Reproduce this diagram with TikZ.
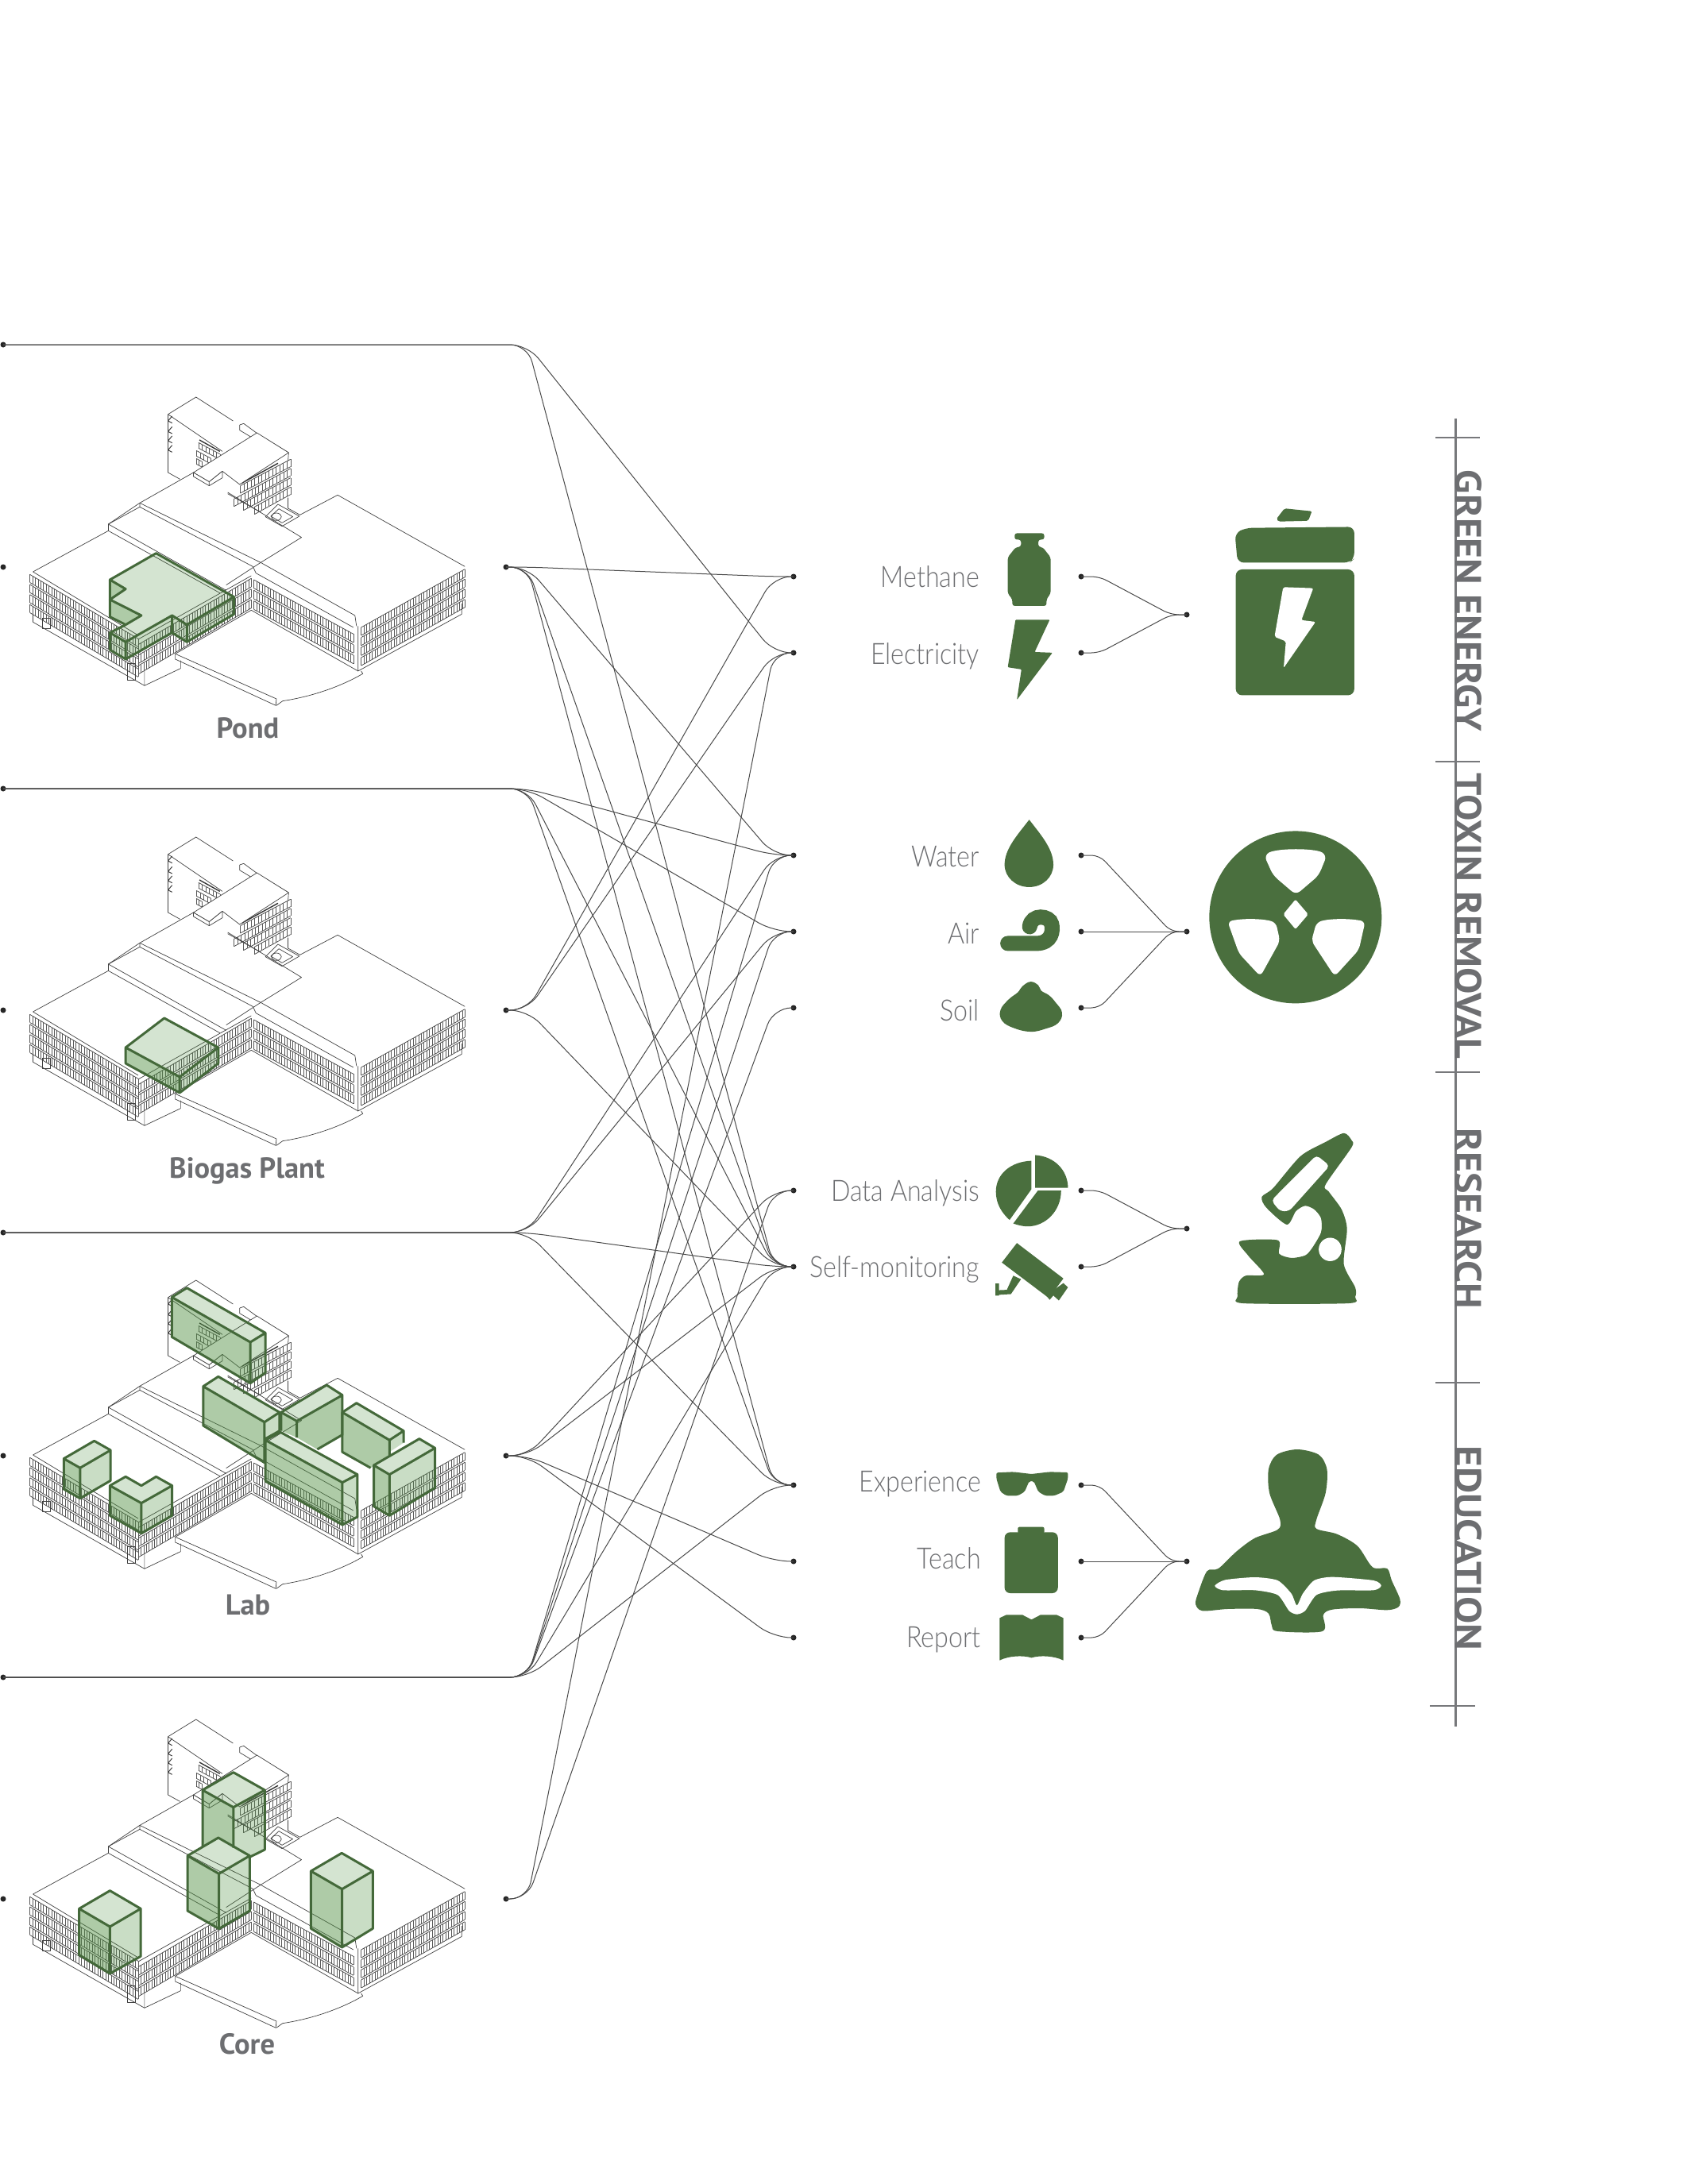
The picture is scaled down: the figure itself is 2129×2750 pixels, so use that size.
\documentclass[tikz,border=0pt]{standalone}
\usepackage{fontspec}
\usepackage{graphicx}
\setmainfont{Lato Light}
\newfontfamily\boldf{PT Sans}
\usetikzlibrary{calc}
\definecolor{iconG}{HTML}{4A6F3E}
\definecolor{volG}{HTML}{44693A}
\definecolor{volF}{HTML}{4F8F40}
\definecolor{txtG}{HTML}{6D6E71}
\definecolor{ruleG}{HTML}{77787B}
\definecolor{conG}{HTML}{4A4A4A}
\newcommand\nar[1]{\scalebox{.87}[1]{#1}}
\tikzset{
  dotn/.style={circle,fill=black!85,inner sep=0pt,minimum size=7pt},
  conn/.style={draw=conG,line width=1pt,rounded corners=22pt},
  gconn/.style={draw=conG,line width=1pt,rounded corners=10pt},
  lbl/.style={anchor=base east,inner sep=0pt,text=txtG,font=\fontsize{37}{40}\selectfont},
  blbl/.style={anchor=base,inner sep=0pt,text=txtG,font=\boldf\bfseries\fontsize{36.5}{38}\selectfont},
  vtxt/.style={inner sep=0pt,rotate=-90,text=txtG},
  rule/.style={draw=ruleG,line width=3pt},
  tick/.style={draw=ruleG,line width=1.3pt},
  icon/.style={fill=iconG,draw=none},
  hole/.style={fill=white,draw=none},
  bl/.style={draw=black!75,line width=.7pt,line join=round},
  bt/.style={draw=black!65,line width=.5pt},
  ftop/.style={fill=volF,fill opacity=.24,draw=none},
  fleft/.style={fill=volF,fill opacity=.46,draw=none},
  fright/.style={fill=volF,fill opacity=.3,draw=none},
  gedge/.style={draw=volG,line width=3pt,line join=round},
  pz3/.style={shift={(1000,600)},xscale=.574,yscale=.4464},
  pz4/.style={shift={(1000,1400)},xscale=.574,yscale=.4464},
  pz7/.style={shift={(1000,1800)},xscale=.574,yscale=.3333},
  pb/.style={shift={(0,#1)},xscale=.3954,yscale=.3333},
}
\newcommand\facade[7]{%
  \foreach \rr in {1,...,#5}{%
    \pgfmathsetmacro\dy{(\rr-1)*#6}%
    \draw[bl] (#1,{#2+\dy}) -- (#3,{#4+\dy});
    \draw[bl] (#1,{#2+\dy+#6*.8}) -- (#3,{#4+\dy+#6*.8});
    \draw[bt] \foreach \ii in {0,...,#7}{ ({#1+(#3-#1)*\ii/#7},{#2+(#4-#2)*\ii/#7+\dy}) -- ++(0,#6*.8) };
  }}
% translucent box: top, right, left corners, heights left/front/right
\newcommand\gcube[9]{%
  \pgfmathsetmacro\fx{#5+#3-#1}\pgfmathsetmacro\fy{#6+#4-#2}%
  \fill[fleft] (#5,#6) -- (\fx,\fy) -- (\fx,{\fy+#8}) -- (#5,{#6+#7}) -- cycle;
  \fill[fright] (#3,#4) -- (\fx,\fy) -- (\fx,{\fy+#8}) -- (#3,{#4+#9}) -- cycle;
  \fill[ftop] (#1,#2) -- (#3,#4) -- (\fx,\fy) -- (#5,#6) -- cycle;
  \draw[gedge] (#5,#6) -- (#1,#2) -- (#3,#4) -- (\fx,\fy) -- cycle (\fx,\fy) -- (\fx,{\fy+#8}) (#5,#6) -- (#5,{#6+#7}) -- (\fx,{\fy+#8}) -- (#3,{#4+#9}) -- (#3,#4);
}
\newcommand\buildingbase{%
  % rear tower
  \draw[bl] (535,125) -- (624,60) -- (742,150) (763,165) -- (776,160) -- (822,200) -- (919,270) -- (917,300);
  \draw[bl] (535,125) -- (708,265) (535,125) -- (535,345) -- (573,370);
  \draw[bl] (763,165) -- (763,185) -- (805,215);
  \foreach \yy in {150,190,225,260}{\draw[bl,line width=1pt] (548,{\yy-18}) -- (535,\yy) -- (548,{\yy+8});}
  % tower facades
  \facade{765}{395}{925}{295}{1}{35}{14}
  \facade{745}{445}{925}{330}{1}{35}{16}
  \facade{775}{460}{925}{365}{1}{35}{13}
  \facade{810}{475}{925}{400}{1}{35}{10}
  \facade{632}{232}{700}{275}{1}{26}{6}
  \facade{625}{262}{672}{292}{1}{26}{4}
  \facade{625}{292}{642}{303}{1}{26}{2}
  \draw[line width=1.4pt,black!80] (770,385) -- (885,310) (635,222) -- (700,265);
  \draw[bl] (725,425) -- (830,495) (917,440) -- (917,480) -- (955,505);
  % connector block
  \draw[bl,fill=white] (616,345) -- (818,195) -- (919,270) -- (763,390) -- (708,340) -- (666,380) -- cycle;
  \draw[bl,fill=white] (616,345) -- (616,360) -- (666,395) -- (708,365) -- (708,340) -- (666,380) -- cycle (666,380) -- (666,395);
  % courtyard
  \draw[bl] (885,465) -- (953,510) -- (898,548) -- (845,512) -- cycle (888,482) -- (932,512) -- (898,535) -- (862,510) -- cycle;
  \draw[bl] (880,512) circle [x radius=16,y radius=14];
  % central slab and roofs
  \draw[bl] (616,345) -- (445,460) -- (345,540) -- (345,565) -- (700,800);
  \draw[bl] (445,460) -- (830,685) (445,475) -- (805,700) (445,460) -- (445,475) -- (345,540);
  \draw[bl] (345,540) -- (720,790) (725,420) -- (960,590) -- (830,685) -- (720,770);
  % right wing
  \draw[bl] (955,505) -- (1075,430) -- (1480,700);
  \draw[bl] (830,685) -- (1130,885) -- (1135,925) (805,700) -- (815,725) -- (1125,930);
  \draw[bl] (1140,925) -- (1140,1095) -- (1470,880) -- (1470,840);
  % left wing
  \draw[bl] (105,720) -- (345,565) (105,720) -- (440,960) (440,975) -- (800,735);
  \draw[bl] (105,880) -- (105,910) -- (460,1150) -- (575,1085) -- (575,1055) (460,1150) -- (460,1090);
  % facades
  \facade{95}{730}{440}{973}{4}{38}{40}
  \facade{440}{995}{800}{745}{3}{40}{42}
  \facade{808}{750}{1125}{955}{3}{40}{36}
  \facade{1150}{930}{1480}{710}{4}{38}{38}
  \draw[bl] (135,895) rectangle (160,935) (405,1065) rectangle (430,1130);
  % plaza
  \draw[bl] (558,1030) -- (800,865) -- (1140,1095);
  \draw[bl] (558,1030) -- (558,1050) -- (878,1225) -- (880,1200) -- (558,1030);
  \draw[bl] (880,1225) -- (900,1208) .. controls (1000,1190) and (1090,1150) .. (1155,1105) -- (1150,1095);
}
\begin{document}
\begin{tikzpicture}[x=1pt,y=-1pt]
\useasboundingbox (0,0) rectangle (2129,2750);
\fill[white] (0,0) rectangle (2129,2750);

% ---------- buildings
\begin{scope}[pb=480]\buildingbase
  \fill[ftop] (350,750) -- (497,650) -- (745,815) -- (595,920) -- (548,885) -- (400,985) -- (350,950) -- (400,920) -- (450,885) -- (350,825) -- (400,785) -- cycle;
  \fill[fleft] (350,750) -- (400,785) -- (350,825) -- cycle (350,825) -- (450,885) -- (400,920) -- (350,890) -- cycle;
  \fill[fright] (350,950) -- (400,985) -- (400,1050) -- (350,1015) -- cycle (400,985) -- (548,885) -- (548,950) -- (400,1050) -- cycle (595,920) -- (745,815) -- (745,880) -- (595,985) -- cycle (548,885) -- (595,920) -- (595,985) -- (548,950) -- cycle;
  \draw[gedge] (350,750) -- (497,650) -- (745,815) -- (595,920) -- (548,885) -- (400,985) -- (350,950) -- (400,920) -- (450,885) -- (350,825) -- (400,785) -- cycle;
  \draw[gedge] (350,750) -- (350,890) -- (400,920) (350,950) -- (350,1015) -- (400,1050) -- (548,950) -- (548,885) (400,985) -- (400,1050) (548,950) -- (595,985) -- (745,880) -- (745,815) (595,920) -- (595,985);
\end{scope}
\begin{scope}[pb=1034]\buildingbase
  \gcube{523}{744}{695}{855}{400}{855}{60}{60}{60}
\end{scope}
\begin{scope}[pb=1592]\buildingbase\end{scope}
\begin{scope}[pb=1580]
  \gcube{595}{125}{845}{295}{547}{160}{150}{155}{150}
  % B
  \fill[fleft] (647,497) -- (842,632) -- (842,785) -- (647,645) -- cycle;
  \fill[fright] (842,632) -- (890,595) -- (890,665) -- (842,697) -- cycle;
  \fill[ftop] (695,460) -- (890,595) -- (842,632) -- (647,497) -- cycle;
  \draw[gedge] (695,460) -- (890,595) -- (842,632) -- (647,497) -- cycle (842,632) -- (842,785) -- (647,645) -- (647,497) (890,595) -- (890,665) -- (842,697);
  % C
  \fill[fleft] (895,595) -- (945,628) -- (945,690) -- (895,665) -- cycle;
  \fill[fleft] (945,628) -- (1090,530) -- (1090,680) -- (1010,735) -- (945,690) -- cycle;
  \fill[ftop] (1040,492) -- (1090,530) -- (945,628) -- (895,595) -- cycle;
  \draw[gedge] (1040,492) -- (1090,530) -- (945,628) -- (895,595) -- cycle (1090,530) -- (1090,680) -- (1010,735) (945,628) -- (945,690) (895,595) -- (895,665);
  % D
  \fill[fleft] (1090,595) -- (1240,700) -- (1240,760) -- (1180,805) -- (1090,745) -- cycle;
  \fill[fright] (1240,700) -- (1285,665) -- (1285,710) -- (1240,745) -- cycle;
  \fill[ftop] (1135,560) -- (1285,665) -- (1240,700) -- (1090,595) -- cycle;
  \draw[gedge] (1135,560) -- (1285,665) -- (1240,700) -- (1090,595) -- cycle (1090,595) -- (1090,745) -- (1180,805) (1240,700) -- (1240,760) (1285,665) -- (1285,710);
  \gcube{893}{670}{1138}{830}{845}{700}{155}{160}{160}
  \gcube{1335}{695}{1385}{730}{1190}{795}{155}{155}{150}
  \gcube{300}{703}{352}{738}{203}{770}{115}{115}{115}
  \fill[fleft] (350,872) -- (450,938) -- (450,1052) -- (350,985) -- cycle;
  \fill[fright] (450,938) -- (548,872) -- (548,985) -- (450,1052) -- cycle;
  \fill[ftop] (400,838) -- (450,872) -- (497,838) -- (548,872) -- (450,938) -- (350,872) -- cycle;
  \draw[gedge] (400,838) -- (450,872) -- (497,838) -- (548,872) -- (450,938) -- (350,872) -- cycle (350,872) -- (350,985) -- (450,1052) -- (548,985) -- (548,872) (450,938) -- (450,1052);
\end{scope}
\begin{scope}[pb=2145]\buildingbase\end{scope}
\begin{scope}[pb=2130]
  % A
  \fill[fleft] (645,372) -- (743,437) -- (743,590) -- (695,552) -- (645,585) -- cycle;
  \fill[fright] (743,437) -- (843,372) -- (843,597) -- (795,625) -- (743,590) -- cycle;
  \fill[ftop] (743,305) -- (843,372) -- (743,437) -- (645,372) -- cycle;
  \draw[gedge] (743,305) -- (843,372) -- (743,437) -- (645,372) -- cycle (645,372) -- (645,585) (743,437) -- (743,590) (843,372) -- (843,597) -- (795,625);
  \gcube{695}{552}{795}{620}{597}{620}{208}{208}{208}
  \gcube{1088}{610}{1187}{678}{990}{678}{217}{220}{217}
  \gcube{350}{752}{448}{820}{252}{820}{175}{177}{180}
\end{scope}

\node[blbl] (lPond) at (312,929) {Pond};
\node[blbl] (lBio) at (311,1483) {Biogas Plant};
\node[blbl] (lLab) at (312,2033) {Lab};
\node[blbl] (lCore) at (311,2586) {Core};

% ---------- source and target dots
\foreach \n/\x/\y in {1/4/434,2/637/714,3/4/993,4/637/1272,5/4/1552,6/637/1833,7/4/2112,8/637/2391}{
  \node[dotn] (S\n) at (\x,\y) {};
  \coordinate (SB\n) at (664,\y);
}
\foreach \n/\y in {a/714,b/1272,c/1833,d/2391}{\node[dotn] (E\n) at (4,\y) {};}
\foreach \n/\y in {1/726,2/822,3/1077,4/1173,5/1269,6/1499,7/1595,8/1870,9/1966,10/2062}{
  \node[dotn] (T\n) at (999,\y) {};
  \coordinate (TB\n) at (974,\y);
}
\foreach \s/\t in {1/2,1/7,2/1,2/3,2/7,2/8,3/3,3/4,3/7,3/8,4/1,4/2,4/7,5/3,5/4,5/7,5/8,6/6,6/7,6/9,6/10,7/3,7/4,7/5,7/7,7/8,8/2,8/6}{
  \draw[conn] (S\s.center) -- (SB\s) -- (TB\t) -- (T\t.center);
}

% ---------- group connectors
\foreach \n/\y/\h in {1/726/1,2/822/1,3/1077/2,4/1173/2,5/1269/2,6/1499/3,7/1595/3,8/1870/4,9/1966/4,10/2062/4}{
  \node[dotn] (G\n) at (1361,\y) {};
  \coordinate (GB\n) at (1384,\y);
}
\foreach \h/\y in {1/774,2/1173,3/1547,4/1966}{
  \node[dotn] (H\h) at (1494,\y) {};
  \coordinate (HB\h) at (1474,\y);
}
\foreach \n/\h in {1/1,2/1,3/2,4/2,5/2,6/3,7/3,8/4,9/4,10/4}{
  \draw[gconn] (G\n.center) -- (GB\n) -- (HB\h) -- (H\h.center);
}

% ---------- labels
\node[lbl] (tm) at (1233,739) {\nar{Methane}};
\node[lbl] (te) at (1233,836) {\nar{Electricity}};
\node[lbl] (tw) at (1233,1091) {\nar{Water}};
\node[lbl] (ta) at (1233,1188) {\nar{Air}};
\node[lbl] (ts) at (1233,1285) {\nar{Soil}};
\node[lbl] (td) at (1233,1512) {\nar{Data Analysis}};
\node[lbl] (tf) at (1233,1608) {\nar{Self-monitoring}};
\node[lbl] (tx) at (1235,1878) {\nar{Experience}};
\node[lbl] (tt) at (1235,1975) {\nar{Teach}};
\node[lbl] (tr) at (1235,2074) {\nar{Report}};

% ---------- side rule
\draw[rule] (1832,527) -- (1832,2174);
\draw[tick] (1807,551) -- (1863,551) (1807,959) -- (1863,959) (1807,1350) -- (1863,1350) (1807,1741) -- (1863,1741) (1800,2148) -- (1857,2148);
\node[vtxt] (vg) at (1849,756.5) {\resizebox{329pt}{33pt}{\boldf\bfseries GREEN ENERGY}};
\node[vtxt] (vt) at (1849,1153.5) {\resizebox{359pt}{33pt}{\boldf\bfseries TOXIN REMOVAL}};
\node[vtxt] (vr) at (1849,1534) {\resizebox{228pt}{33pt}{\boldf\bfseries RESEARCH}};
\node[vtxt] (ve) at (1849,1949.5) {\resizebox{257pt}{33pt}{\boldf\bfseries EDUCATION}};

% ---------- icons, zoom 3
\begin{scope}[pz3]
  \fill[icon,rounded corners=3pt] (483,160) -- (548,160) -- (548,178) -- (535,178) -- (535,198) -- (545,200) -- (562,228) -- (562,330) -- (553,346) -- (553,365) -- (478,365) -- (478,346) -- (468,330) -- (468,228) -- (485,200) -- (497,198) -- (497,178) -- (483,178) -- cycle;
  \fill[icon,rounded corners=1pt] (485,404) -- (560,404) -- (527,495) -- (566,497) -- (488,630) -- (498,544) -- (468,538) -- cycle;
  \fill[icon,rounded corners=2pt] (1057,120) -- (1075,90) -- (1135,98) -- (1127,125) -- (1062,127) -- cycle;
  \fill[icon,rounded corners=8pt] (966,160) -- (990,145) -- (1228,142) -- (1228,232) -- (1218,243) -- (972,243) -- cycle;
  \fill[icon,rounded corners=8pt] (968,262) -- (1228,262) -- (1228,617) -- (968,617) -- cycle;
  \fill[hole,rounded corners=2pt] (1072,312) -- (1138,315) -- (1112,405) -- (1143,410) -- (1073,540) -- (1078,465) -- (1053,452) -- cycle;
  \fill[icon] (515,968) .. controls (540,1010) and (568,1050) .. (568,1095) .. controls (568,1130) and (545,1158) .. (515,1158) .. controls (485,1158) and (461,1130) .. (461,1095) .. controls (461,1050) and (490,1010) .. (515,968) -- cycle;
  \draw[iconG,line width=19pt,line cap=round] (468,1317) -- (530,1317) .. controls (565,1317) and (568,1280) .. (564,1262) .. controls (560,1238) and (520,1232) .. (516,1270);
  \fill[icon] plot[smooth cycle,tension=.7] coordinates {(518,1425) (535,1435) (541,1450) (558,1463) (572,1482) (587,1512) (578,1542) (550,1558) (518,1566) (482,1556) (456,1536) (452,1505) (470,1475) (490,1455) (500,1438)};
  \fill[icon] (1099,1243) ellipse [x radius=189,y radius=243];
  \fill[hole,rounded corners=7pt] (1030,1068) .. controls (1060,1048) and (1140,1048) .. (1168,1068) -- (1150,1125) -- (1100,1180) -- (1050,1125) -- cycle;
  \fill[hole,rounded corners=2pt] (1099,1193) -- (1127,1235) -- (1099,1277) -- (1072,1235) -- cycle;
  \fill[hole,rounded corners=6pt] (950,1255) .. controls (990,1245) and (1030,1248) .. (1056,1258) -- (1065,1310) -- (1022,1410) -- (975,1345) -- cycle;
  \fill[hole,rounded corners=6pt] (1252,1255) .. controls (1210,1245) and (1170,1248) .. (1145,1258) -- (1134,1310) -- (1185,1410) -- (1238,1335) -- cycle;
\end{scope}

% ---------- icons, zoom 4
\begin{scope}[pz4]
  \fill[icon] (520,138) .. controls (475,140) and (442,175) .. (442,225) .. controls (442,260) and (455,285) .. (472,305) -- (520,218) -- cycle;
  \fill[icon] (528,122) .. controls (570,125) and (600,165) .. (600,214) -- (528,214) -- cycle;
  \fill[icon] (534,222) -- (585,222) .. controls (585,280) and (550,323) .. (512,323) .. controls (498,323) and (488,318) .. (480,315) -- cycle;
  \fill[icon] (488,370) -- (590,470) -- (558,525) -- (455,425) -- cycle;
  \fill[icon] (590,483) -- (600,495) -- (580,532) -- (568,518) -- (560,530) -- (552,518) -- cycle;
  \fill[icon] (480,462) -- (497,472) -- (475,514) -- (449,516) -- (449,518) -- (441,518) -- (441,484) -- (449,484) -- (449,503) -- (466,502) -- cycle;
  \fill[icon] plot[smooth cycle,tension=.45] coordinates {(1205,60) (1222,80) (1222,100) (1165,205) (1172,225) (1200,275) (1212,330) (1205,430) (1230,495) (1230,522) (1215,540) (985,540) (972,520) (975,480) (990,462) (1030,458) (995,405) (977,365) (1060,362) (1063,400) (1090,412) (1120,405) (1135,385) (1155,340) (1155,300) (1140,275) (1120,265) (1100,280) (1080,318) (1035,270) (1025,240) (1050,215) (1110,125) (1165,85)};
  \fill[hole,rounded corners=5pt] (1145,122) -- (1174,152) -- (1085,280) -- (1065,280) -- (1046,250) -- cycle;
  \fill[hole] (1175,388) ellipse [x radius=25,y radius=33];
\end{scope}

% ---------- icons, zoom 7
\begin{scope}[pz7]
  \fill[icon,rounded corners=2pt] (443,163) -- (480,160) -- (520,168) -- (560,160) -- (600,162) -- (600,185) -- (590,235) -- (570,250) -- (550,250) -- (535,235) -- (525,195) -- (515,195) -- (505,235) -- (490,250) -- (465,250) -- (452,235) -- (443,185) -- cycle;
  \fill[icon,rounded corners=7pt] (461,388) -- (578,388) -- (578,618) -- (461,618) -- cycle;
  \fill[icon,rounded corners=2pt] (490,368) -- (548,368) -- (548,392) -- (490,392) -- cycle;
  \fill[icon] (450,712) -- (465,700) -- (500,700) -- (520,718) -- (540,700) -- (575,700) -- (590,712) -- (590,872) .. controls (570,855) and (540,852) .. (520,862) .. controls (500,852) and (470,855) .. (450,872) -- cycle;
  \fill[icon] plot[smooth cycle,tension=.5] coordinates {(1103,75) (1150,95) (1168,150) (1165,240) (1145,340) (1145,375) (1190,395) (1235,440) (1268,520) (1300,525) (1310,570) (1328,640) (1325,670) (1300,682) (1240,675) (1180,680) (1160,700) (1158,762) (1060,762) (1047,740) (1040,695) (1015,678) (950,678) (895,685) (880,660) (885,620) (905,535) (930,525) (970,460) (1010,410) (1060,378) (1065,340) (1042,240) (1040,150) (1058,95)};
  \fill[hole] plot[smooth cycle,tension=.4] coordinates {(922,590) (945,568) (1010,558) (1060,570) (1090,620) (1102,665) (1115,620) (1140,570) (1180,557) (1270,570) (1287,590) (1270,607) (1190,608) (1145,625) (1120,685) (1102,698) (1085,685) (1060,625) (1010,607) (940,607)};
\end{scope}
\end{tikzpicture}
\end{document}
